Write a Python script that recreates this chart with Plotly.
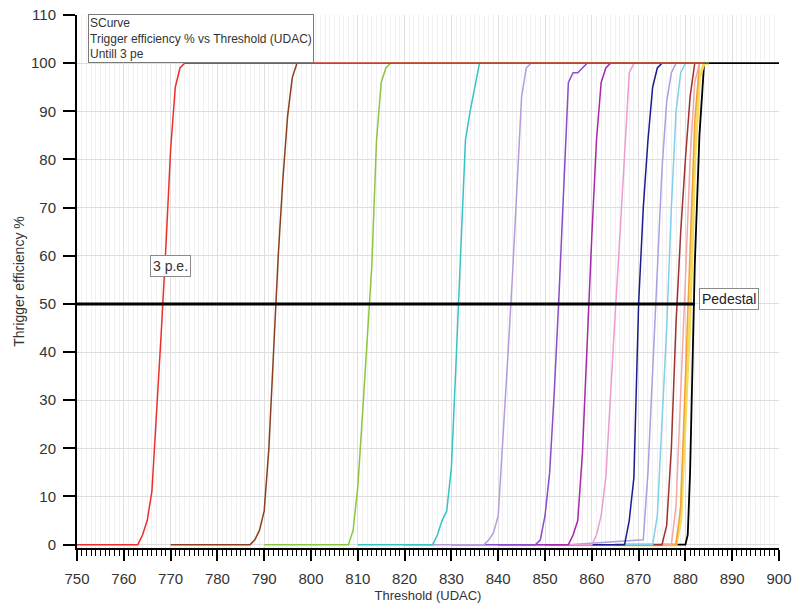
import plotly.graph_objects as go

# ---- Data: threshold (UDAC) breakpoints and trigger efficiency (%) per S-curve ----
red_x = [750, 763, 764, 765, 766, 767, 768, 769, 770, 771, 772, 773, 884]
red_y = [0, 0, 2, 5, 11, 27, 44, 62, 82, 95, 99, 100, 100]

brown_x = [770, 787, 788, 789, 790, 791, 792, 793, 794, 795, 796, 797, 885]
brown_y = [0, 0, 1, 3, 7, 20, 40, 60, 76, 89, 97, 100, 100]

green_x = [790, 808, 809, 810, 811, 812, 813, 814, 815, 816, 817, 885]
green_y = [0, 0, 3, 12, 27, 42, 58, 84, 96, 99, 100, 100]

teal_x = [810, 826, 827, 828, 829, 830, 831, 832, 833, 834, 835, 836, 885]
teal_y = [0, 0, 2, 5, 7, 16, 38, 62, 84, 90, 95, 100, 100]

lavender_x = [820, 837, 838, 839, 840, 841, 842, 843, 844, 845, 846, 847, 885]
lavender_y = [0, 0, 1, 2.5, 6, 21, 38, 55, 74, 93, 99, 100, 100]

purple_x = [830, 848, 849, 850, 851, 852, 853, 854, 855, 856, 857, 858, 859, 885]
purple_y = [0, 0, 1, 6, 15, 32, 52, 75, 96, 98, 98, 99, 100, 100]

magenta_x = [840, 855, 856, 857, 858, 859, 860, 861, 862, 863, 864, 885]
magenta_y = [0, 0, 2, 5, 19, 42, 64, 84, 96, 99, 100, 100]

pink_x = [845, 860, 861, 862, 863, 864, 865, 866, 867, 868, 869, 885]
pink_y = [0, 0, 2, 6, 14, 32, 48, 64, 81, 98, 100, 100]

navy_x = [850, 867, 868, 869, 870, 871, 872, 873, 874, 875, 885]
navy_y = [0, 0, 5, 14, 50, 70, 84, 95, 99, 100, 100]

lilac_x = [855, 871, 872, 873, 874, 875, 876, 877, 878, 885]
lilac_y = [0, 1, 15, 35, 58, 78, 92, 98, 100, 100]

skyblue_x = [860, 873, 874, 875, 876, 877, 878, 879, 880, 885]
skyblue_y = [0, 0, 6, 25, 45, 70, 90, 98, 100, 100]

darkred_x = [860, 875, 876, 877, 878, 879, 880, 881, 882, 885]
darkred_y = [0, 0, 4, 20, 46, 65, 80, 93, 100, 100]

salmon_x = [865, 877, 878, 879, 880, 881, 882, 883, 885]
salmon_y = [0, 0, 8, 30, 55, 80, 96, 100, 100]

orange_x = [865, 878, 879, 880, 881, 882, 883, 885]
orange_y = [0, 0, 8, 35, 60, 88, 100, 100]

yellow_x = [865, 878, 879, 880, 881, 882, 883, 884, 885]
yellow_y = [0, 0, 5, 25, 48, 80, 97, 100, 100]

black_x = [865, 880, 880.5, 881, 882, 883, 884, 900]
black_y = [0, 0, 2, 15, 58, 85, 100, 100]

# 50 % reference level (pedestal line)
level_x = [750, 882]
level_y = [50, 50]

x_tick_vals = list(range(750, 901, 10))
y_tick_vals = list(range(0, 111, 10))

curves = [
    ("red", red_x, red_y),
    ("brown", brown_x, brown_y),
    ("green", green_x, green_y),
    ("teal", teal_x, teal_y),
    ("lavender", lavender_x, lavender_y),
    ("purple", purple_x, purple_y),
    ("magenta", magenta_x, magenta_y),
    ("pink", pink_x, pink_y),
    ("navy", navy_x, navy_y),
    ("lilac", lilac_x, lilac_y),
    ("skyblue", skyblue_x, skyblue_y),
    ("darkred", darkred_x, darkred_y),
    ("salmon", salmon_x, salmon_y),
    ("orange", orange_x, orange_y),
    ("yellow", yellow_x, yellow_y),
    ("black", black_x, black_y),
]

# ---- Styles ----
colors = {
    "red": "#ec2f2a",
    "brown": "#8b3f1c",
    "green": "#8cc63f",
    "teal": "#35c3c6",
    "lavender": "#b49cdc",
    "purple": "#8a4cc8",
    "magenta": "#a42aa8",
    "pink": "#ec9cd0",
    "navy": "#1c1c8c",
    "lilac": "#a9a0e0",
    "skyblue": "#7fd0e8",
    "darkred": "#a2302c",
    "salmon": "#f3a8a8",
    "orange": "#f3a23a",
    "yellow": "#f4dc58",
    "black": "#000000",
}
widths = {"yellow": 3, "black": 1.8}

fig = go.Figure()

# draw later (right-most) curves first so that earlier curves sit on top
for name, xs, ys in reversed(curves):
    fig.add_trace(go.Scatter(
        x=xs, y=ys, mode="lines", name=name,
        line=dict(color=colors[name], width=widths.get(name, 1.5)),
        hoverinfo="skip", showlegend=False,
    ))

fig.add_trace(go.Scatter(
    x=level_x, y=level_y, mode="lines",
    line=dict(color="black", width=3), showlegend=False, hoverinfo="skip",
))

font_family = "Liberation Sans, Arial, sans-serif"

fig.update_layout(
    width=793, height=606,
    margin=dict(l=77, r=14, t=15, b=58, autoexpand=False),
    paper_bgcolor="white", plot_bgcolor="white",
    font=dict(family=font_family, color="#333333", size=15),
    showlegend=False,
    annotations=[
        dict(
            text="SCurve<br>Trigger efficiency % vs Threshold (UDAC)<br>Untill 3 pe",
            xref="paper", yref="paper", x=0.0157, y=1.002,
            xanchor="left", yanchor="top", align="left", showarrow=False,
            font=dict(size=12, color="#333333", family=font_family),
            bgcolor="white", bordercolor="#7a7a7a", borderwidth=1, borderpad=1,
        ),
        dict(
            text="3 p.e.", x=770.0, y=57.8, xref="x", yref="y",
            showarrow=False, font=dict(size=14, color="#333333", family=font_family),
            bgcolor="white", bordercolor="#8a8a8a", borderwidth=1, borderpad=2,
        ),
        dict(
            text="Pedestal", x=883.0, y=51.1, xref="x", yref="y", xanchor="left",
            showarrow=False, font=dict(size=14, color="#222222", family=font_family),
            bgcolor="white", bordercolor="#8a8a8a", borderwidth=1, borderpad=2,
        ),
    ],
)

fig.update_xaxes(
    range=[750, 900],
    automargin=False,
    tickvals=x_tick_vals,
    ticks="outside", ticklen=11, tickwidth=2, tickcolor="black",
    ticklabelstandoff=5,
    showline=True, linecolor="black", linewidth=2,
    showgrid=True, gridcolor="#dedede", gridwidth=1,
    zeroline=False,
    minor=dict(dtick=1, ticks="outside", ticklen=6, tickwidth=1, tickcolor="black",
               showgrid=True, gridcolor="#f1f1f1", gridwidth=1),
    title=dict(text="Threshold (UDAC)", font=dict(size=13, color="#333333"), standoff=5),
    tickfont=dict(size=15, color="#333333"),
)

fig.update_yaxes(
    range=[-0.7, 110],
    automargin=False,
    tickvals=y_tick_vals,
    ticks="outside", ticklen=12, tickwidth=2, tickcolor="black",
    ticklabelstandoff=4,
    showline=True, linecolor="black", linewidth=2,
    showgrid=True, gridcolor="#dedede", gridwidth=1,
    zeroline=False,
    title=dict(text="Thrigger efficiency %", font=dict(size=14, color="#333333"), standoff=3),
    tickfont=dict(size=15, color="#333333"),
)

fig.write_html(
    "out.html",
    config={"displayModeBar": False},
    post_script="document.body.style.margin='0';document.body.style.overflow='hidden';",
)
